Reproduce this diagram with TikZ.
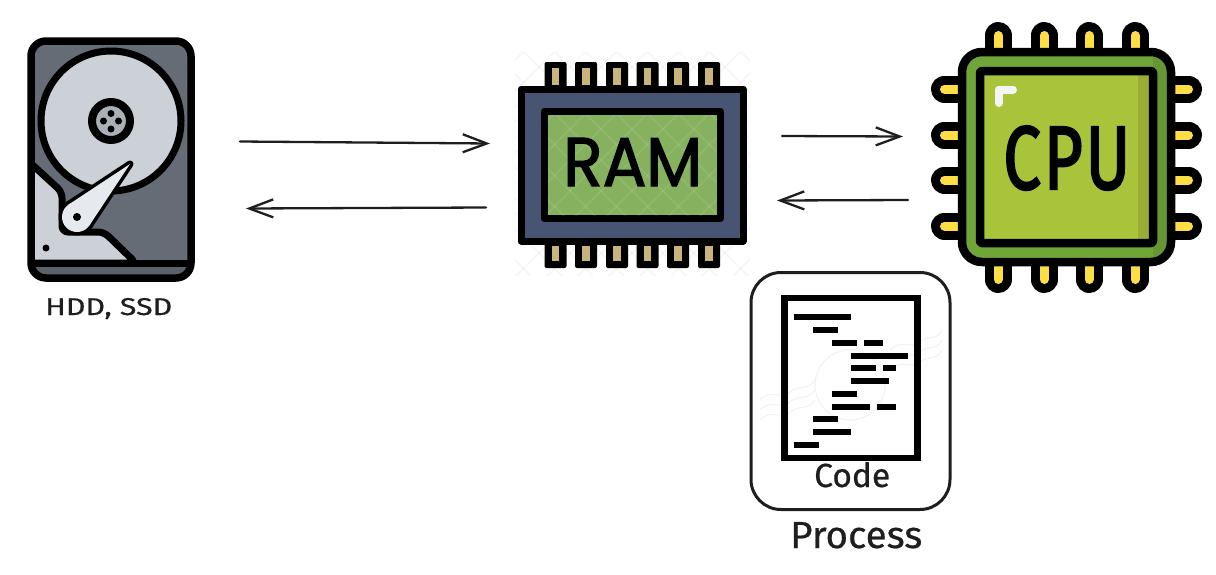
\documentclass[tikz,border=0pt]{standalone}
\usepackage{fontspec}
\usepackage{graphicx}
\usetikzlibrary{arrows.meta}
\setmainfont{Fira Sans}
\newfontfamily\ramfont[FakeBold=2]{Poppins}
\newfontfamily\cpufont[FakeBold=2.5,LetterSpace=4]{Fira Sans}
\newfontfamily\handfont[FakeBold=0.6]{Fira Sans}
\definecolor{ink}{HTML}{1E1E1E}
\definecolor{hddgray}{HTML}{656C76}
\definecolor{hddband}{HTML}{5A6169}
\definecolor{hddlight}{HTML}{CCD1D8}
\definecolor{hddhub}{HTML}{AAB0B7}
\definecolor{hddarm}{HTML}{E6E9ED}
\definecolor{ramblue}{HTML}{475573}
\definecolor{ramgreen}{HTML}{86B25F}
\definecolor{ramtan}{HTML}{C9B47C}
\definecolor{cpugreen}{HTML}{70A637}
\definecolor{cpudark}{HTML}{659734}
\definecolor{cpulime}{HTML}{A9C43A}
\definecolor{cpuband}{HTML}{99AD34}
\definecolor{cpupin}{HTML}{FDDF45}
\definecolor{wmark}{HTML}{F3F3F3}
\tikzset{
  x=1pt,y=-1pt,
  sketch/.style={draw=ink,line width=2.3pt,line cap=round,-{Straight Barb[length=24pt,width=18pt,line width=2.3pt]}},
  hand/.style={inner sep=0pt,anchor=base west,text=ink},
  iconline/.style={draw=black,line join=round},
  barfill/.style={fill=black},
  cpupinout/.style={draw=black,line width=27pt,line cap=round},
  cpupinin/.style={draw=cpupin,line width=9pt,line cap=round},
  lattice/.style={draw=black!60,line width=2pt,opacity=.05},
  wave/.style={draw=wmark,line width=1.2pt},
}
\begin{document}
\begin{tikzpicture}
\useasboundingbox (0,0) rectangle (1216,574);

% ---------- HDD ----------
\begin{scope}
  \path[fill=hddgray,rounded corners=15pt] (31,41) rectangle (191,278);
  \begin{scope}
    \clip[rounded corners=15pt] (31,41) rectangle (191,278);
    \draw[iconline,fill=hddlight,line width=7pt,rounded corners=6pt]
      (25,158) -- (62,192) -- (62,232) -- (104,232) -- (136,263) -- (25,263) -- cycle;
    \fill[hddband] (25,263) rectangle (197,285);
  \end{scope}
  \draw[iconline,fill=hddlight,line width=7pt] (111,121) circle[radius=70];
  \draw[iconline,fill=hddhub,line width=8pt] (111,121) circle[radius=19];
  \foreach \dx/\dy in {0/-7.5,-7.5/0,7.5/0,0/8}
    \fill[black] (111+\dx,121+\dy) circle[radius=3.5];
  % arm
  \draw[iconline,line width=7pt] (130,164) -- (68.7,204.5) -- (89.5,225.3) -- cycle;
  \draw[iconline,line width=7pt] (77,217) circle[radius=15];
  \fill[hddarm] (130,164) -- (68.7,204.5) -- (89.5,225.3) -- cycle;
  \fill[hddarm] (77,217) circle[radius=15];
  \fill[black] (77,217) circle[radius=4];
  \fill[black] (46,248) circle[radius=3.5];
  \draw[draw=black,line width=7pt] (31,263.5) -- (191,263.5);
  \draw[iconline,line width=7.5pt,rounded corners=15pt] (31,41) rectangle (191,278);
\end{scope}
\node[hand] (hddlabel) at (45,315) {\resizebox{127pt}{17pt}{\handfont HDD, SSD}};

% ---------- RAM ----------
\begin{scope}
  \clip (515,52) rectangle (750,275);
  \foreach \k in {-8,...,8}{
    \draw[lattice] (632+31*\k-130,160-130) -- (632+31*\k+130,160+130);
    \draw[lattice] (632+31*\k+130,160-130) -- (632+31*\k-130,160+130);
  }
\end{scope}
\foreach \c in {555.5,586,617,647.5,678,709}{
  \fill[black,rounded corners=2pt] (\c-11,62) rectangle (\c+11,92);
  \fill[black,rounded corners=2pt] (\c-11,238) rectangle (\c+11,268);
  \fill[ramtan] (\c-3.7,68) rectangle (\c+3.7,85);
  \fill[ramtan] (\c-3.7,246) rectangle (\c+3.7,261);
}
\draw[iconline,fill=ramblue,line width=7pt] (521,89) rectangle (743,241);
\draw[iconline,fill=ramgreen,line width=7pt] (544,111.5) rectangle (720,218.5);
\begin{scope}
  \clip (547.5,115) rectangle (716.5,215);
  \foreach \k in {-8,...,8}{
    \draw[draw=white,line width=2pt,opacity=.08] (632+31*\k-130,160-130) -- (632+31*\k+130,160+130);
    \draw[draw=white,line width=2pt,opacity=.08] (632+31*\k+130,160-130) -- (632+31*\k-130,160+130);
  }
\end{scope}
\node[inner sep=0pt,anchor=base west] (ramlabel) at (563,186) {\resizebox{139pt}{48pt}{\ramfont RAM}};

% ---------- CPU ----------
\foreach \c in {998,1044,1089,1135}{
  \draw[cpupinout] (\c,35.5) -- (\c,55);
  \draw[cpupinout] (\c,279.5) -- (\c,260);
  \draw[cpupinin] (\c,35.5) -- (\c,52);
  \draw[cpupinin] (\c,279.5) -- (\c,262);
}
\foreach \c in {89,135,180,226}{
  \draw[cpupinout] (944.5,\c) -- (965,\c);
  \draw[cpupinout] (1188.5,\c) -- (1168,\c);
  \draw[cpupinin] (944.5,\c) -- (962,\c);
  \draw[cpupinin] (1188.5,\c) -- (1171,\c);
}
\path[fill=cpugreen,rounded corners=20pt] (962,52) rectangle (1171,262);
\begin{scope}
  \clip[rounded corners=20pt] (962,52) rectangle (1171,262);
  \fill[cpudark] (1153,45) rectangle (1180,270);
\end{scope}
\draw[iconline,line width=8.5pt,rounded corners=20pt] (962,52) rectangle (1171,262);
\fill[cpulime] (980,71) rectangle (1153,243);
\fill[cpuband] (1138,71) rectangle (1153,243);
\draw[iconline,line width=8.5pt,rounded corners=2pt] (980,71) rectangle (1153,243);
\draw[draw=white!96!black,line width=8pt,line cap=round,line join=round] (998.5,103) -- (998.5,89.5) -- (1013,89.5);
\node[inner sep=0pt,anchor=base west] (cpulabel) at (1003,189) {\resizebox{127pt}{63pt}{\cpufont CPU}};

% ---------- Process ----------
\draw[wave] (850,385) circle[radius=35];
\foreach \dy in {0,10,20}{
  \draw[wave] (760,400+\dy) .. controls (772,388+\dy) and (780,400+\dy) .. (790,392+\dy) .. controls (800,384+\dy) and (806,392+\dy) .. (815,380+\dy);
  \draw[wave] (890,350+\dy) .. controls (902,338+\dy) and (910,350+\dy) .. (920,342+\dy) .. controls (930,334+\dy) and (936,342+\dy) .. (942,330+\dy);
}
\draw[draw=ink,line width=3pt,rounded corners=30pt] (751,272.5) rectangle (950,509.5);
\draw[draw=black,line width=6.5pt] (784.5,298) rectangle (917.5,458);
\foreach \a/\b/\c in {161/333/157,219/295/195,276/352/233,372/430/233,333/505/272,333/409/310,430/467/310,
                      333/448/348,276/352/386,276/391/425,410/467/425,219/295/463,219/333/501,161/238/540}
  \fill[barfill] (740+\a/3,265+\c/3-3) rectangle (740+\b/3,265+\c/3+3);
\node[hand] (codelabel) at (814,487) {\resizebox{76pt}{25pt}{\handfont Code}};
\node[hand] (processlabel) at (790,548) {\resizebox{132pt}{26pt}{\handfont Process}};

% ---------- Connectors ----------
\coordinate (hddout) at (240,141.5);
\coordinate (ramin)  at (490,143.5);
\coordinate (ramout) at (486,207.5);
\coordinate (hddin)  at (246,208.5);
\coordinate (ramtocpu) at (782,136);
\coordinate (cpuin)    at (903,136.5);
\coordinate (cpuout)   at (908,200);
\coordinate (ramback)  at (777,200.5);
\draw[sketch] (hddout) -- (ramin);
\draw[sketch] (ramout) -- (hddin);
\draw[sketch] (ramtocpu) -- (cpuin);
\draw[sketch] (cpuout) -- (ramback);
\end{tikzpicture}
\end{document}
